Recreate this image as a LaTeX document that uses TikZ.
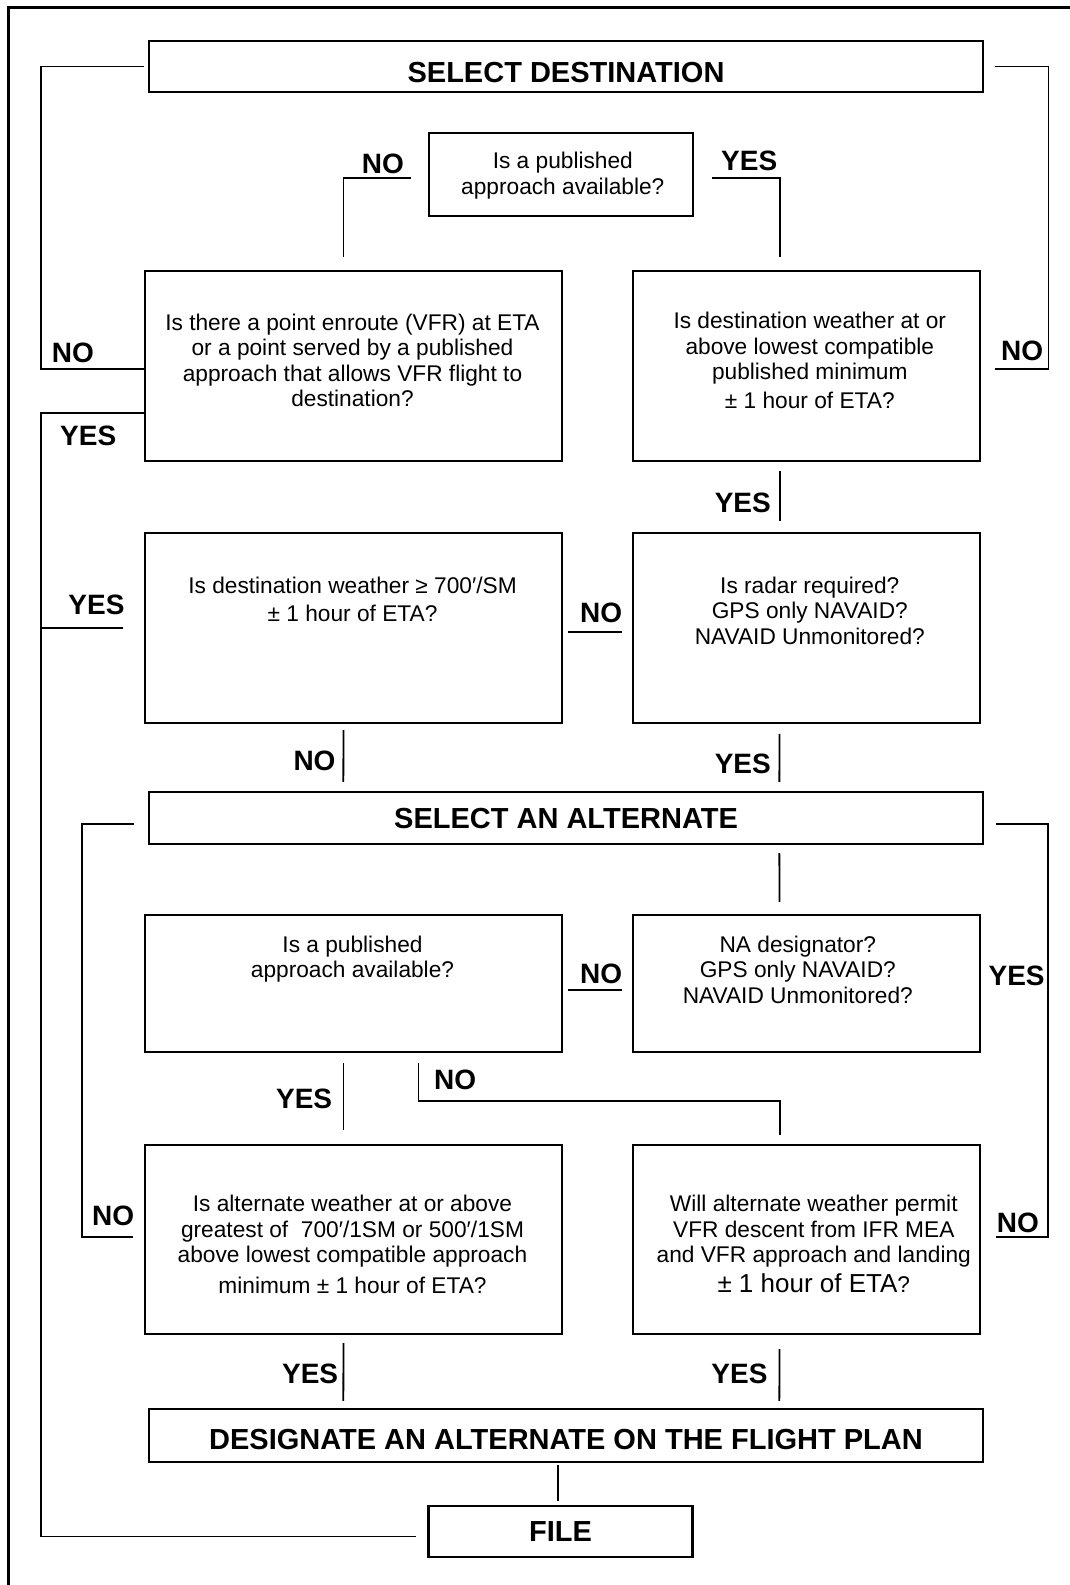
\documentclass[tikz,border=0pt]{standalone}
\usepackage{fontspec}
\setmainfont{Liberation Sans}
\usepackage{tikz}

\tikzset{
  qbox/.style={draw, line width=2.2pt, inner sep=0pt},
  qtext/.style={inner sep=0pt, align=center, font=\fontsize{22.7}{25.5}\selectfont},
  ttl/.style={inner sep=0pt, font=\bfseries\fontsize{29}{31}\selectfont},
  yn/.style={inner sep=0pt, font=\bfseries\fontsize{28}{30}\selectfont},
  link/.style={line width=1.8pt},
}

\begin{document}
\begin{tikzpicture}[x=1pt,y=-1pt]
	\useasboundingbox (0,0) rectangle (1070,1585);
	
	%Shape: Frame
	\draw[line width=3.3pt] (8.8,1585) -- (8.8,7.3) -- (1070,7.3);
	
	%Shape: Rectangle
	\node[qbox, minimum width=834pt, minimum height=51pt] (sdest) at (566,66.5) {};
	\node[qbox, minimum width=264pt, minimum height=83pt] (q1) at (560.8,174.5) {};
	\node[qbox, minimum width=417pt, minimum height=190pt] (vfr) at (353.5,366) {};
	\node[qbox, minimum width=347pt, minimum height=190pt] (wx) at (806.8,366) {};
	\node[qbox, minimum width=417pt, minimum height=190pt] (vmc) at (353.5,628) {};
	\node[qbox, minimum width=347pt, minimum height=190pt] (radar) at (806.8,628) {};
	\node[qbox, minimum width=834pt, minimum height=52pt] (salt) at (566,818) {};
	\node[qbox, minimum width=417pt, minimum height=137pt] (pub) at (353.5,983.5) {};
	\node[qbox, minimum width=347pt, minimum height=137pt] (nadesig) at (806.8,983.5) {};
	\node[qbox, minimum width=417pt, minimum height=189pt] (altwx) at (353.5,1239.5) {};
	\node[qbox, minimum width=347pt, minimum height=189pt] (vfrdesc) at (806.8,1239.5) {};
	\node[qbox, minimum width=834pt, minimum height=53pt] (design) at (566,1435.5) {};
	\node[qbox, minimum width=264pt, minimum height=51pt] (file) at (560.5,1531.5) {};
	
	% Text Node
	\node[ttl, yshift=-6.5pt] (sdest-t) at (sdest) {SELECT DESTINATION};
	\node[ttl, yshift=-1pt] (salt-t) at (salt) {SELECT AN ALTERNATE};
	\node[ttl, yshift=-4.2pt] (design-t) at (design) {DESIGNATE AN ALTERNATE ON THE FLIGHT PLAN};
	\node[ttl] (file-t) at (file) {FILE};
	
	% Text Node
	\node[qtext, anchor=north, xshift=2pt, yshift=-20pt] (q1-t) at (q1.north) {Is a published\\approach available?};
	\node[qtext, anchor=north, xshift=-1pt, yshift=-43.5pt] (vfr-t) at (vfr.north) {Is there a point enroute (VFR) at ETA\\or a point served by a published\\approach that allows VFR flight to\\destination?};
	\node[qtext, anchor=north, xshift=3pt, yshift=-42pt] (wx-t) at (wx.north) {Is destination weather at or\\above lowest compatible\\published minimum\\[3pt]± 1 hour of ETA?};
	\node[qtext, anchor=north, xshift=-1pt, yshift=-44.5pt] (vmc-t) at (vmc.north) {Is destination weather ≥ 700′/SM\\[3pt]± 1 hour of ETA?};
	\node[qtext, anchor=north, xshift=3pt, yshift=-44.5pt] (radar-t) at (radar.north) {Is radar required?\\GPS only NAVAID?\\NAVAID Unmonitored?};
	\node[qtext, anchor=north, xshift=-1pt, yshift=-21.8pt] (pub-t) at (pub.north) {Is a published\\approach available?};
	\node[qtext, anchor=north, xshift=-9pt, yshift=-21.8pt] (nadesig-t) at (nadesig.north) {NA designator?\\GPS only NAVAID?\\NAVAID Unmonitored?};
	\node[qtext, anchor=north, xshift=-1pt, yshift=-51pt] (altwx-t) at (altwx.north) {Is alternate weather at or above\\greatest of\ \ 700′/1SM or 500′/1SM\\above lowest compatible approach\\[5pt]minimum ± 1 hour of ETA?};
	\node[qtext, anchor=north, xshift=7pt, yshift=-51pt] (vfrdesc-t) at (vfrdesc.north) {Will alternate weather permit\\VFR descent from IFR MEA\\and VFR approach and landing\\[4pt]{\fontsize{26}{28}\selectfont ± 1 hour of ETA}?};
	
	%Straight Lines
	\draw[link, shorten >=4pt] ([yshift=-3pt]vfr.west) -- ++(-103,0) |- (sdest.west);
	\draw[link, shorten <=14pt, shorten >=11pt] ([yshift=-3pt]wx.east) -- ++(67,0) |- (sdest.east);
	\draw[link, shorten <=17pt, shorten >=13pt] ([yshift=-3.5pt]q1.west) -| ([xshift=-10pt]vfr.north);
	\draw[link, shorten <=18pt, shorten >=13pt] ([yshift=-3.5pt]q1.east) -| ([xshift=-27.2pt]wx.north);
	\draw[link, shorten <=9pt, shorten >=11pt] ([xshift=-27.2pt]wx.south) -- ([xshift=-27.2pt]radar.north);
	\draw[link, shorten >=11pt] ([yshift=-47pt]vfr.west) -- ++(-103,0) |- ([yshift=-5pt]file.west);
	\draw[link, shorten <=20.6pt] (vmc.west) -- ++(-103.3,0);
	\draw[link, shorten <=6pt, shorten >=9pt] ([xshift=-10pt]vmc.south) -- ([xshift=-222.7pt]salt.north);
	\draw[link, shorten <=10pt, shorten >=5pt] ([yshift=-3.7pt]radar.west) -- ([yshift=-3.7pt]vmc.east);
	\draw[link, shorten <=9.7pt, shorten >=9pt] ([xshift=-27.2pt]radar.south) -- ([xshift=213.3pt]salt.north);
	\draw[link, shorten <=11pt, shorten >=13.5pt] ([yshift=2.5pt]altwx.west) -- ++(-61.6,0) |- ([yshift=-6pt]salt.west);
	\draw[link, shorten <=14.6pt, shorten >=11.7pt] ([yshift=2.5pt]vfrdesc.east) -- ++(66.9,0) |- ([yshift=-6pt]salt.east);
	\draw[link, shorten <=8pt, shorten >=12pt] ([xshift=213.3pt]salt.south) -- ([xshift=-27.2pt]nadesig.north);
	\draw[link, shorten <=10pt, shorten >=5pt] ([yshift=-6.5pt]nadesig.west) -- ([yshift=-6.5pt]pub.east);
	\draw[link, shorten <=10pt, shorten >=14pt] ([xshift=-10pt]pub.south) -- ([xshift=-10pt]altwx.north);
	\draw[link, shorten <=10pt, shorten >=9pt] ([xshift=65pt]pub.south) -- ++(0,48) -| ([xshift=-27.2pt]vfrdesc.north);
	\draw[link, shorten <=8pt, shorten >=7pt] ([xshift=-10pt]altwx.south) -- ([xshift=-222.7pt]design.north);
	\draw[link, shorten <=14pt, shorten >=7pt] ([xshift=-27.2pt]vfrdesc.south) -- ([xshift=213.3pt]design.north);
	\draw[link, shorten <=2pt, shorten >=4pt] ([xshift=-8pt]design.south) -- ([xshift=-2.5pt]file.north);
	
	% Text Node
	\node[yn, anchor=base west] (no-vfr) at (51.6,362.7) {NO};
	\node[yn, anchor=base west] (no-wx) at (1001,360) {NO};
	\node[yn, anchor=base west] (no-q1) at (361.6,173.3) {NO};
	\node[yn, anchor=base west] (yes-q1) at (721,170.7) {YES};
	\node[yn, anchor=base west] (yes-vfr) at (60,445) {YES};
	\node[yn, anchor=base east] (yes-vmc) at (124.7,614) {YES};
	\node[yn, anchor=base east] (no-vmc) at (335.7,770) {NO};
	\node[yn, anchor=base east] (no-radar) at (622.3,622.3) {NO};
	\node[yn, anchor=base east] (yes-wx) at (771,512.3) {YES};
	\node[yn, anchor=base east] (yes-radar) at (771,773.3) {YES};
	\node[yn, anchor=base east] (no-altwx) at (134.3,1225.7) {NO};
	\node[yn, anchor=base east] (yes-nadesig) at (1044.8,985) {YES};
	\node[yn, anchor=base west] (no-vfrdesc) at (996.6,1232.7) {NO};
	\node[yn, anchor=base east] (no-nadesig) at (622.3,983.3) {NO};
	\node[yn, anchor=base east] (yes-pub) at (332.3,1108.3) {YES};
	\node[yn, anchor=base west] (no-pub) at (433.9,1089.3) {NO};
	\node[yn, anchor=base east] (yes-altwx) at (338.3,1383.3) {YES};
	\node[yn, anchor=base east] (yes-vfrdesc) at (767.7,1383.3) {YES};
	
\end{tikzpicture}
\end{document}
